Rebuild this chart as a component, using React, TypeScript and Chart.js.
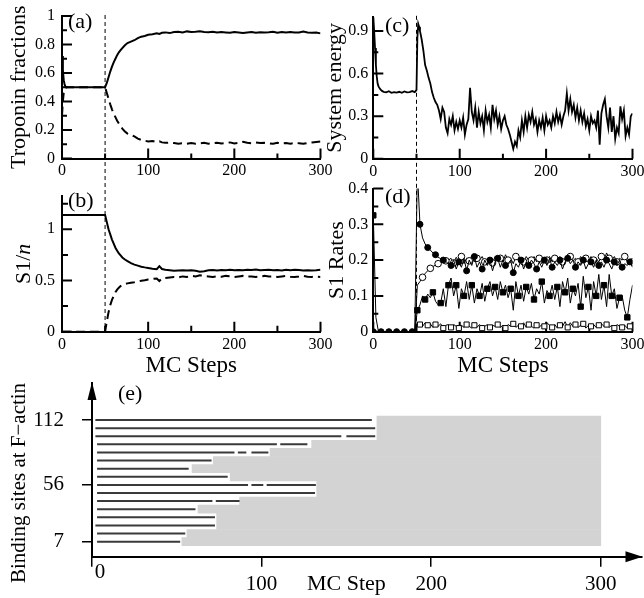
import React, { useEffect, useRef } from 'react';
import { Chart, registerables } from 'chart.js';

Chart.register(...registerables);

// ================= DATA =================
const switchStep = 50;

// panels (a) and (b)
const abSteps = [0,1,2,3,4,5,10,15,20,25,30,35,40,45,50,52,54,56,58,60,62,64,66,68,70,73,76,80,84,88,92,96,100,105,110,113,116,120,125,130,135,140,145,150,155,160,165,170,175,180,185,190,195,200,205,210,215,220,225,230,235,240,245,250,255,260,265,270,275,280,285,290,295,300];
const aSolid = [0.72,0.62,0.55,0.52,0.505,0.5,
  0.5,0.5,0.5,0.5,0.5,0.5,0.5,0.5,0.5,
  0.53,0.57,0.61,0.645,0.675,0.70,0.725,0.745,0.76,0.775,
  0.795,0.81,
  0.82,0.83,0.845,0.855,0.86,
  0.868,0.872,0.878,0.874,0.882,
  0.885,0.88,0.888,0.89,0.885,0.892,0.888,0.89,0.893,0.888,0.886,0.889,0.884,0.888,0.885,0.882,0.887,0.884,0.88,0.884,0.887,0.882,0.886,0.884,0.886,0.889,0.883,0.887,0.885,0.887,0.884,0.885,0.891,0.884,0.882,0.884,0.878];
const aDashed = [0.3,0.4,0.46,0.48,0.495,0.5,
  0.5,0.5,0.5,0.5,0.5,0.5,0.5,0.5,0.5,
  0.46,0.42,0.38,0.345,0.315,0.29,0.265,0.245,0.225,0.21,
  0.19,0.175,
  0.165,0.155,0.14,0.13,0.125,
  0.12,0.122,0.115,0.12,0.113,
  0.11,0.112,0.108,0.103,0.107,0.103,0.108,0.104,0.106,0.11,0.104,0.107,0.11,0.106,0.108,0.113,0.105,0.11,0.117,0.11,0.106,0.112,0.108,0.11,0.106,0.104,0.11,0.105,0.108,0.104,0.11,0.107,0.103,0.108,0.112,0.116,0.12];
const bSolid = [1.14,1.14,1.14,1.14,1.14,1.14,
  1.14,1.14,1.14,1.14,1.14,1.14,1.14,1.14,1.14,
  1.07,1.0,0.95,0.9,0.86,0.82,0.79,0.765,0.745,0.725,
  0.705,0.69,
  0.67,0.655,0.645,0.635,0.628,
  0.622,0.615,0.61,0.64,0.612,
  0.605,0.6,0.595,0.598,0.6,0.597,0.6,0.595,0.585,0.59,0.6,0.602,0.598,0.603,0.6,0.605,0.6,0.603,0.6,0.605,0.603,0.608,0.6,0.603,0.605,0.6,0.603,0.598,0.604,0.6,0.605,0.602,0.598,0.6,0.597,0.6,0.605];
const bDashed = [0,0,0,0,0,0,
  0,0,0,0,0,0,0,0,0,
  0.1,0.19,0.26,0.31,0.35,0.385,0.41,0.43,0.445,0.455,
  0.465,0.472,
  0.478,0.483,0.49,0.497,0.502,
  0.51,0.515,0.52,0.495,0.52,
  0.525,0.53,0.535,0.53,0.54,0.535,0.545,0.54,0.55,0.545,0.54,0.535,0.54,0.537,0.545,0.54,0.535,0.54,0.545,0.537,0.54,0.535,0.54,0.545,0.538,0.54,0.535,0.54,0.545,0.537,0.533,0.538,0.545,0.537,0.535,0.538,0.535];

// panel (c)
const cEarlySteps = [0,1,2,3,4,5,6,8,10,12,15,18,21,24,27,30,33,36,39,42,45,48,50,51,52,53,54,56,58,60,62,64,66,68];
const cEarlyEnergy = [1.0,0.9,0.78,0.66,0.58,0.53,0.51,0.49,0.478,0.472,0.468,0.476,0.465,0.47,0.466,0.472,0.465,0.474,0.468,0.47,0.477,0.47,0.485,0.85,0.95,0.93,0.9,0.84,0.76,0.66,0.62,0.57,0.53,0.47];
const cNoisyStart = 70;
const cNoisyStep = 2;
const cNoisyEnergy = [
  0.43,0.4,0.38,0.34,0.28,0.36,0.33,0.22,0.18,0.28,
  0.24,0.3,0.2,0.26,0.21,0.27,0.22,0.29,0.17,0.24,
  0.28,0.5,0.33,0.27,0.36,0.22,0.33,0.25,0.3,0.2,
  0.34,0.26,0.31,0.22,0.38,0.28,0.34,0.24,0.3,0.21,
  0.27,0.3,0.24,0.21,0.17,0.12,0.07,0.12,0.09,0.2,
  0.15,0.27,0.19,0.3,0.22,0.31,0.26,0.33,0.24,0.28,
  0.19,0.27,0.22,0.29,0.2,0.3,0.24,0.27,0.22,0.3,
  0.25,0.33,0.26,0.31,0.24,0.3,0.34,0.46,0.34,0.42,
  0.33,0.38,0.29,0.36,0.27,0.34,0.26,0.32,0.23,0.28,
  0.2,0.3,0.25,0.27,0.22,0.34,0.1,0.32,0.38,0.42,
  0.3,0.22,0.36,0.19,0.3,0.14,0.22,0.18,0.37,0.28,
  0.34,0.16,0.22,0.17,0.3,0.32];

// panel (d): one value every 3 MC steps, 0..300
const dStep = 3;
const dPre = [0,0,0,0,0,0,0,0,0,0,0,0,0,0,0,0,0];
const dFilledCircles = [...dPre,
  0.45,0.3,0.262,0.245,0.235,0.228,0.22,0.215,0.208,0.204,
  0.2,0.196,0.19,0.185,0.2,0.175,0.195,0.18,0.205,0.17,
  0.2,0.185,0.21,0.18,0.195,0.175,0.2,0.185,0.2,0.17,
  0.195,0.205,0.18,0.2,0.185,0.19,0.2,0.165,0.19,0.18,
  0.2,0.175,0.195,0.185,0.2,0.19,0.175,0.195,0.18,0.2,
  0.185,0.205,0.18,0.195,0.185,0.2,0.175,0.195,0.205,0.19,
  0.2,0.18,0.195,0.185,0.2,0.175,0.19,0.195,0.18,0.2,
  0.185,0.195,0.18,0.2,0.19,0.175,0.195,0.185,0.2,0.18,
  0.19,0.185,0.195,0.18];
const dOpenCircles = [...dPre,
  0.13,0.14,0.152,0.163,0.17,0.177,0.182,0.186,0.19,0.193,
  0.196,0.198,0.2,0.205,0.192,0.208,0.195,0.21,0.19,0.205,
  0.198,0.212,0.195,0.205,0.2,0.21,0.195,0.2,0.208,0.192,
  0.21,0.2,0.205,0.195,0.215,0.2,0.205,0.19,0.21,0.2,
  0.205,0.195,0.21,0.198,0.2,0.21,0.195,0.205,0.19,0.205,
  0.2,0.21,0.195,0.205,0.2,0.21,0.195,0.205,0.2,0.21,
  0.198,0.205,0.195,0.21,0.2,0.205,0.195,0.21,0.2,0.205,
  0.195,0.21,0.2,0.22,0.205,0.2,0.21,0.195,0.205,0.2,
  0.21,0.195,0.2,0.195];
const dFilledSquares = [0.325,0.04,0,0,0,0,0,0,0,0,0,0,0,0,0,0,0,
  0.06,0.075,0.1,0.09,0.105,0.095,0.11,0.085,0.075,0.08,
  0.12,0.07,0.13,0.15,0.1,0.13,0.065,0.12,0.1,0.14,
  0.09,0.13,0.08,0.12,0.1,0.135,0.085,0.12,0.14,0.1,
  0.125,0.09,0.14,0.11,0.13,0.095,0.12,0.06,0.14,0.1,
  0.13,0.085,0.125,0.105,0.135,0.09,0.12,0.105,0.14,0.08,
  0.115,0.1,0.13,0.09,0.125,0.07,0.14,0.11,0.15,0.08,
  0.12,0.1,0.135,0.07,0.155,0.095,0.125,0.06,0.14,0.1,
  0.16,0.09,0.13,0.07,0.16,0.1,0.12,0.065,0.095,0.1,
  0.06,0.04,0.09,0.13];
const dOpenSquares = [...dPre,
  0.025,0.02,0.015,0.025,0.018,0.022,0.012,0.02,0.015,0.022,
  0.01,0.018,0.02,0.012,0.02,0.015,0.01,0.018,0.012,0.02,
  0.015,0.01,0.018,0.012,0.02,0.01,0.015,0.02,0.012,0.018,
  0.015,0.02,0.012,0.018,0.01,0.02,0.015,0.022,0.012,0.018,
  0.015,0.025,0.012,0.02,0.015,0.01,0.018,0.012,0.02,0.015,
  0.025,0.018,0.012,0.02,0.01,0.018,0.015,0.028,0.012,0.025,
  0.015,0.02,0.012,0.018,0.022,0.01,0.018,0.015,0.02,0.012,
  0.018,0.022,0.015,0.02,0.012,0.018,0.01,0.02,0.015,0.012,
  0.018,0.01,0.015,0.02];

// panel (e)
const eLineSites = [7,14,21,28,35,42,49,56,63,70,77,84,91,98,105,112];
const eLineSegments = [
  [[3,52]],
  [[3,55]],
  [[2,72.5]],
  [[3,72.5]],
  [[3,61]],
  [[3,71],[73,87]],
  [[3,131.5]],
  [[3,92],[94,101],[103,132]],
  [[3,80]],
  [[3,57]],
  [[3,70.5]],
  [[3,84],[86,91],[94,104]],
  [[3,109],[111,127]],
  [[2,147],[150,167]],
  [[2,167]],
  [[2,165]],
];
const eGrayStart = [53,56,73.5,73.5,62.5,87,132.5,132.5,81.5,59,71.5,105,129.5,168,168,168];
const eGrayEnd = 300;

// tick values
const stepTicks = [0,100,200,300];
const stepMinor = [50,150,250];
const aYTicks = [0,0.2,0.4,0.6,0.8,1];
const aYMinor = [0.1,0.3,0.5,0.7,0.9];
const bYTicks = [0,0.5,1];
const bYMinor = [0.25,0.75,1.25];
const cYTicks = [0,0.3,0.6,0.9];
const cYMinor = [0.15,0.45,0.75];
const dYTicks = [0,0.1,0.2,0.3,0.4];
const dYMinor = [0.05,0.15,0.25,0.35];
const eYTicks = [7,56,112];
const eXTicks = [0,100,200,300];

// ================= LAYOUT / STYLE =================
const W = 644, H = 598;
const FONT = '"Liberation Serif", "Times New Roman", Times, serif';
const Y_W = 40, Y_W_E = 85, X_H = 30;
const AREA: any = {
  a: { left: 62, top: 16, right: 320.5, bottom: 158.5 },
  b: { left: 62, top: 196, right: 320.5, bottom: 331.7 },
  c: { left: 373.3, top: 16.8, right: 632.5, bottom: 158.8 },
  d: { left: 373.3, top: 188.5, right: 632.5, bottom: 331.7 },
  e: { left: 92, top: 383, right: 641.5, bottom: 556.7 },
};

function padFor(area: any, yW: number) {
  return {
    left: area.left - yW,
    top: area.top,
    right: W - area.right,
    bottom: H - area.bottom - X_H,
  };
}

type Part = { text: string; italic?: boolean };

function drawParts(ctx: any, parts: Part[], size: number, x: number, y: number, rotate: boolean, align: string, baseline: string) {
  const fonts = parts.map((p) => `${p.italic ? 'italic ' : ''}${size}px ${FONT}`);
  const widths = parts.map((p, i) => { ctx.font = fonts[i]; return ctx.measureText(p.text).width; });
  const total = widths.reduce((s, w) => s + w, 0);
  ctx.save();
  ctx.translate(x, y);
  if (rotate) ctx.rotate(-Math.PI / 2);
  ctx.fillStyle = '#000';
  ctx.textAlign = 'left';
  ctx.textBaseline = baseline;
  let u = align === 'center' ? -total / 2 : 0;
  parts.forEach((p, i) => { ctx.font = fonts[i]; ctx.fillText(p.text, u, 0); u += widths[i]; });
  ctx.restore();
}

function decorPlugin(d: any) {
  return {
    id: 'decor',
    beforeDatasetsDraw(chart: any) {
      const { ctx, chartArea: ca, scales } = chart;
      const xs = scales.x, ys = scales.y;
      ctx.save();
      ctx.strokeStyle = '#000';
      ctx.lineWidth = 2;
      ctx.beginPath();
      (d.xMajor || []).forEach((v: number) => { const p = xs.getPixelForValue(v); ctx.moveTo(p, ca.bottom); ctx.lineTo(p, ca.bottom - d.majorLen); });
      (d.xMinor || []).forEach((v: number) => { const p = xs.getPixelForValue(v); ctx.moveTo(p, ca.bottom); ctx.lineTo(p, ca.bottom - d.minorLen); });
      (d.yMajor || []).forEach((v: number) => { const p = ys.getPixelForValue(v); ctx.moveTo(ca.left, p); ctx.lineTo(ca.left + d.majorLen, p); });
      (d.yMinor || []).forEach((v: number) => { const p = ys.getPixelForValue(v); ctx.moveTo(ca.left, p); ctx.lineTo(ca.left + d.minorLen, p); });
      ctx.stroke();
      if (d.refX !== undefined) {
        const p = xs.getPixelForValue(d.refX);
        ctx.beginPath();
        ctx.lineWidth = 1;
        ctx.setLineDash([4, 3]);
        ctx.moveTo(p, ca.top - 1);
        ctx.lineTo(p, d.refBottom);
        ctx.stroke();
        ctx.setLineDash([]);
      }
      ctx.restore();
    },
    afterDraw(chart: any) {
      const { ctx, chartArea: ca, scales } = chart;
      const xs = scales.x;
      drawParts(ctx, [{ text: d.label }], 22, ca.left + d.labelDx, ca.top + d.labelDy, false, 'left', 'middle');
      drawParts(ctx, d.yTitle, d.yTitleSize || 22, ca.left + d.yTitleDx, d.yTitleY !== undefined ? ca.top + d.yTitleY : (ca.top + ca.bottom) / 2, true, 'center', 'alphabetic');
      if (d.xTitle) {
        const cx = d.xTitleAt !== undefined ? xs.getPixelForValue(d.xTitleAt) : (ca.left + ca.right) / 2;
        drawParts(ctx, [{ text: d.xTitle }], d.xTitleSize || 23, cx, ca.bottom + d.xTitleDy, false, 'center', 'alphabetic');
      }
      if (d.arrows) {
        ctx.save();
        ctx.fillStyle = '#000';
        ctx.beginPath();
        ctx.moveTo(ca.left, ca.top - 1);
        ctx.lineTo(ca.left - 4.5, ca.top + 17);
        ctx.lineTo(ca.left + 4.5, ca.top + 17);
        ctx.closePath();
        ctx.fill();
        ctx.beginPath();
        ctx.moveTo(ca.right + 1, ca.bottom);
        ctx.lineTo(ca.right - 16, ca.bottom - 5.5);
        ctx.lineTo(ca.right - 16, ca.bottom + 5.5);
        ctx.closePath();
        ctx.fill();
        ctx.restore();
      }
      if (d.xLabels) {
        d.xLabels.forEach((v: number) => {
          const first = v === d.xLabels[0];
          const px = xs.getPixelForValue(v) + (first ? 8 : 0);
          drawParts(ctx, [{ text: String(v) }], 21, px, ca.bottom + (first ? 21.5 : 33.3), false, 'center', 'alphabetic');
        });
      }
    },
  };
}

const tickFont = { family: FONT, size: 16 };

function xScale(ticks: number[], pad: number) {
  return {
    type: 'linear', min: 0, max: 300,
    grid: { display: false, drawTicks: false },
    border: { display: true, color: '#000', width: 2 },
    ticks: { font: tickFont, color: '#000', padding: pad, maxRotation: 0, autoSkip: false, callback: (v: number) => String(v) },
    afterBuildTicks: (s: any) => { s.ticks = ticks.map((value) => ({ value })); },
    afterFit: (s: any) => { s.height = X_H; s.paddingLeft = 0; s.paddingRight = 0; },
  };
}
function yScale(min: number, max: number, ticks: number[], pad: number) {
  return {
    type: 'linear', min, max,
    grid: { display: false, drawTicks: false },
    border: { display: true, color: '#000', width: 2 },
    ticks: { font: tickFont, color: '#000', padding: pad, autoSkip: false, callback: (v: number) => String(v) },
    afterBuildTicks: (s: any) => { s.ticks = ticks.map((value) => ({ value })); },
    afterFit: (s: any) => { s.width = Y_W; s.paddingTop = 0; s.paddingBottom = 0; },
  };
}

function baseOptions(area: any, scales: any, yW = Y_W) {
  return {
    responsive: false,
    animation: false,
    devicePixelRatio: 1,
    events: [],
    layout: { padding: padFor(area, yW) },
    plugins: { legend: { display: false }, tooltip: { enabled: false } },
    elements: { point: { radius: 0 }, line: { tension: 0 } },
    scales,
  };
}

const pts = (xs: number[], ys: number[]) => xs.map((x, i) => ({ x, y: ys[i] }));
const solidLine = (data: any, width = 2) => ({ data, borderColor: '#000', borderWidth: width, pointRadius: 0, fill: false });
const dashedLine = (data: any) => ({ ...solidLine(data), borderDash: [9, 5] });

function buildConfigs() {
  const cfgA = {
    type: 'line',
    data: { datasets: [solidLine(pts(abSteps, aSolid)), dashedLine(pts(abSteps, aDashed))] },
    options: baseOptions(AREA.a, { x: xScale(stepTicks, 3), y: yScale(0, 1, aYTicks, 7) }),
    plugins: [decorPlugin({
      xMajor: stepTicks, xMinor: stepMinor, yMajor: aYTicks, yMinor: aYMinor, majorLen: 10, minorLen: 5,
      label: '(a)', labelDx: 6, labelDy: 6.5,
      yTitle: [{ text: 'Troponin fractions' }], yTitleDx: -37,
      refX: switchStep, refBottom: AREA.b.bottom,
    })],
  };
  const cfgB = {
    type: 'line',
    data: { datasets: [solidLine(pts(abSteps, bSolid)), dashedLine(pts(abSteps, bDashed))] },
    options: baseOptions(AREA.b, { x: xScale(stepTicks, 3), y: yScale(0, 1.325, bYTicks, 7) }),
    plugins: [decorPlugin({
      xMajor: stepTicks, xMinor: stepMinor, yMajor: bYTicks, yMinor: bYMinor, majorLen: 10, minorLen: 6,
      label: '(b)', labelDx: 6, labelDy: 5,
      yTitle: [{ text: 'S1/' }, { text: 'n', italic: true }], yTitleDx: -32,
      xTitle: 'MC Steps', xTitleDy: 40,
    })],
  };
  const cData = [
    ...pts(cEarlySteps, cEarlyEnergy),
    ...cNoisyEnergy.map((y, i) => ({ x: cNoisyStart + i * cNoisyStep, y })),
  ];
  const cfgC = {
    type: 'line',
    data: { datasets: [solidLine(cData, 1.8)] },
    options: baseOptions(AREA.c, { x: xScale(stepTicks, 3), y: yScale(0, 1, cYTicks, 5) }),
    plugins: [decorPlugin({
      xMajor: stepTicks, xMinor: stepMinor, yMajor: cYTicks, yMinor: cYMinor, majorLen: 10, minorLen: 5,
      label: '(c)', labelDx: 11.7, labelDy: 9.7,
      yTitle: [{ text: 'System energy' }], yTitleDx: -32.3,
      refX: switchStep, refBottom: AREA.d.bottom,
    })],
  };
  const dPts = (ys: number[]) => ys.map((y, i) => ({ x: i * dStep, y }));
  const marker = (r: number, phase: number, showPre: boolean, extra?: number) => (ctx: any) => {
    const i = ctx.dataIndex;
    if (extra !== undefined && i === extra) return r;
    if (i * dStep < switchStep && !showPre) return 0;
    return i % 3 === phase ? r : 0;
  };
  const dSeries = (ys: number[], style: string, filled: boolean, r: number, phase: number, showPre: boolean, extra?: number) => ({
    data: dPts(ys), borderColor: '#000', borderWidth: 1, fill: false,
    pointStyle: style, pointRadius: marker(r, phase, showPre, extra),
    pointBackgroundColor: filled ? '#000' : '#fff', pointBorderColor: '#000', pointBorderWidth: 1,
  });
  const cfgD = {
    type: 'line',
    data: { datasets: [
      dSeries(dFilledCircles, 'circle', true, 3, 0, true),
      dSeries(dOpenCircles, 'circle', false, 3.3, 1, false),
      dSeries(dFilledSquares, 'rect', true, 3.8, 2, false, 0),
      dSeries(dOpenSquares, 'rect', false, 3.6, 0, false),
    ] },
    options: baseOptions(AREA.d, { x: xScale(stepTicks, 3), y: yScale(0, 0.4, dYTicks, 5) }),
    plugins: [decorPlugin({
      xMajor: stepTicks, xMinor: stepMinor, yMajor: dYTicks, yMinor: dYMinor, majorLen: 10, minorLen: 5,
      label: '(d)', labelDx: 11.7, labelDy: 8.5,
      yTitle: [{ text: 'S1 Rates' }], yTitleDx: -30.3,
      xTitle: 'MC Steps', xTitleDy: 40,
    })],
  };

  const segDatasets: any[] = [];
  eLineSites.forEach((site, k) => {
    eLineSegments[k].forEach(([a, b]) => {
      segDatasets.push({ type: 'line', data: [{ x: a, y: site }, { x: b, y: site }], borderColor: '#3a3a3a', borderWidth: 2, pointRadius: 0, fill: false });
    });
  });
  const grayBand = {
    type: 'bar', indexAxis: 'y',
    data: eLineSites.map((site, k) => ({ y: site, x: [eGrayStart[k], eGrayEnd] })),
    backgroundColor: '#d3d3d3', borderWidth: 0, barPercentage: 1, categoryPercentage: 1, grouped: false,
  };
  const eGrid = { display: true, drawOnChartArea: false, drawTicks: true, tickLength: 10, color: '#000', lineWidth: 1.5, offset: false };
  const cfgE = {
    type: 'line',
    data: { datasets: [...segDatasets, grayBand] },
    options: baseOptions(AREA.e, {
      x: {
        type: 'linear', min: 0, max: 324, offset: false,
        grid: eGrid,
        border: { display: true, color: '#000', width: 2 },
        ticks: { display: false },
        afterBuildTicks: (s: any) => { s.ticks = eXTicks.map((value) => ({ value })); },
        afterFit: (s: any) => { s.height = X_H; s.paddingLeft = 0; s.paddingRight = 0; },
      },
      y: {
        type: 'linear', min: -6, max: 144, offset: false,
        grid: eGrid,
        border: { display: true, color: '#000', width: 2 },
        ticks: { font: { family: FONT, size: 21 }, color: '#000', padding: 18, autoSkip: false },
        afterBuildTicks: (s: any) => { s.ticks = eYTicks.map((value) => ({ value })); },
        afterFit: (s: any) => { s.width = Y_W_E; s.paddingTop = 0; s.paddingBottom = 0; },
      },
    }, Y_W_E),
    plugins: [decorPlugin({
      label: '(e)', labelDx: 26, labelDy: 11.5,
      yTitle: [{ text: 'Binding sites at F\u2212actin' }], yTitleDx: -67.5, yTitleSize: 21, yTitleY: 100,
      xTitle: 'MC Step', xTitleAt: 150, xTitleDy: 33.3, xTitleSize: 22,
      arrows: true, xLabels: eXTicks,
    })],
  };
  return [cfgA, cfgB, cfgC, cfgD, cfgE];
}

export default function App() {
  const canvases = useRef<(HTMLCanvasElement | null)[]>([]);
  useEffect(() => {
    const configs = buildConfigs();
    const charts = configs.map((cfg, i) => new Chart(canvases.current[i] as HTMLCanvasElement, cfg as any));
    return () => charts.forEach((c) => c.destroy());
  }, []);
  return (
    <div style={{ position: 'absolute', left: 0, top: 0, width: W, height: H, background: '#fff', overflow: 'hidden' }}>
      {[0, 1, 2, 3, 4].map((i) => (
        <canvas
          key={i}
          ref={(el) => { canvases.current[i] = el; }}
          width={W}
          height={H}
          style={{ position: 'absolute', left: 0, top: 0, width: W, height: H }}
        />
      ))}
    </div>
  );
}
